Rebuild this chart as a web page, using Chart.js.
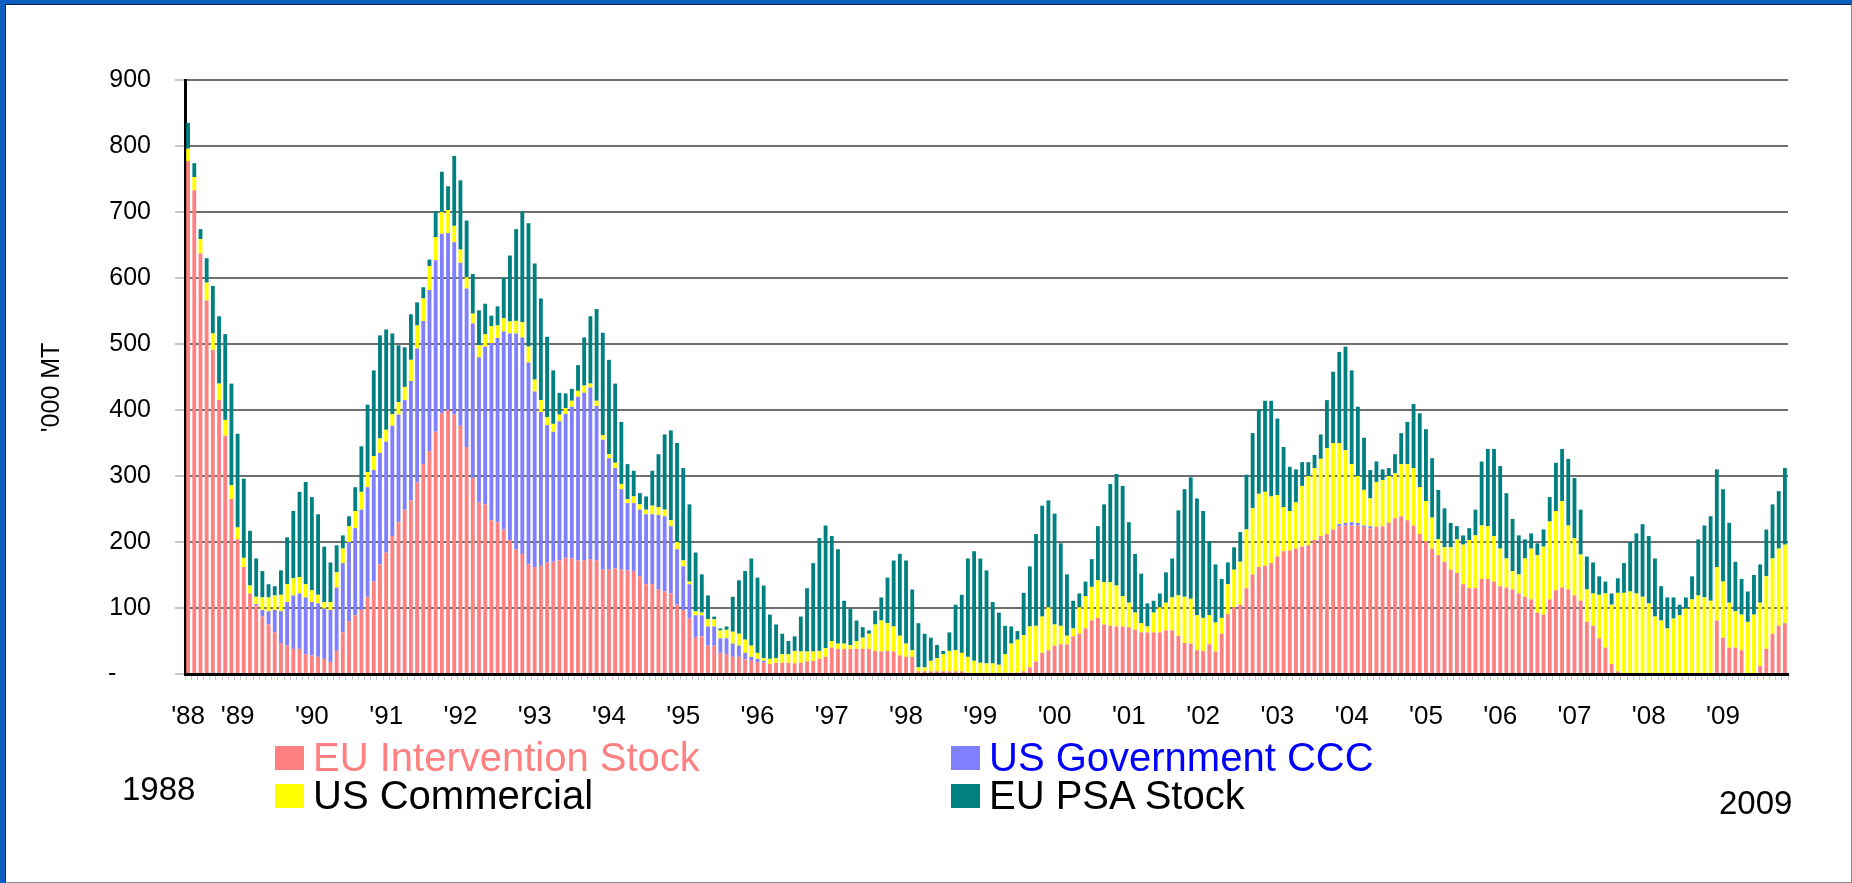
<!DOCTYPE html>
<html>
<head>
<meta charset="utf-8">
<script src="https://cdn.jsdelivr.net/npm/chart.js@4/dist/chart.umd.min.js"></script>
<style>
html,body{margin:0;padding:0;width:1852px;height:883px;overflow:hidden;background:#0d5fbf;}
#panel{position:absolute;left:5px;top:4px;width:1845px;height:877px;background:#fff;border:1px solid;border-color:#10204a #8a8a8a #8a8a8a #10204a;}
#wrap{position:absolute;left:0;top:0;width:1852px;height:883px;}
.txt{position:absolute;font-family:"Liberation Sans",Arial,sans-serif;color:#000;white-space:nowrap;}
.leg{position:absolute;height:40px;line-height:40px;font-family:"Liberation Sans",Arial,sans-serif;font-size:40px;white-space:nowrap;}
.sw{position:absolute;left:0;top:9px;width:29px;height:24px;}
.lt{position:absolute;left:38px;top:0;}
</style>
</head>
<body>
<div id="panel"></div>
<div id="wrap"><canvas id="c"></canvas></div>
<div class="txt" style="left:122px;top:772px;font-size:33px;line-height:34px;">1988</div>
<div class="txt" style="left:1719px;top:786px;font-size:33px;line-height:34px;">2009</div>
<div id="legend"></div>
<script>
// Monthly observations, May 1988 .. Nov 2009 ('000 MT)
const yearTickLabels = ["'88","'89","'90","'91","'92","'93","'94","'95","'96","'97","'98","'99","'00","'01","'02","'03","'04","'05","'06","'07","'08","'09"];
const yTickLabels = ["-","100","200","300","400","500","600","700","800","900"];

const euIntervention = [
777,733,637,566,491,415,361,265,204,162,122,104,87,75,63,47,43,38,38,30,28,26,23,18,35,63,80,89,97,117,140,166,
184,209,230,249,263,290,318,338,367,395,400,393,376,344,297,260,257,233,230,219,203,189,182,166,162,164,169,170,172,176,175,172,172,
174,172,158,158,160,158,157,156,148,136,136,128,125,122,105,97,84,55,57,43,43,32,30,26,26,22,20,18,17,15,17,17,17,
16,17,19,20,23,26,40,38,38,38,38,38,38,35,34,35,34,28,26,26,4,4,4,4,4,4,4,4,2,0,0,0,0,0,
2,2,2,4,10,19,32,36,43,45,45,57,61,69,81,85,75,73,72,72,71,67,63,63,63,63,66,66,58,47,46,36,35,
45,34,61,91,101,105,130,151,162,164,168,178,186,187,190,193,195,203,209,212,219,224,225,225,225,223,221,223,224,229,236,239,233,
225,212,201,190,180,170,158,153,136,130,130,144,144,140,133,131,128,122,117,113,93,90,113,127,131,128,119,111,79,73,54,40,15,
4,0,0,0,0,0,0,0,0,0,0,0,0,0,0,0,81,55,40,40,36,0,0,12,38,61,73,77];

const usGovernmentCCC = [
0,0,0,0,0,0,0,0,0,0,0,2,10,20,34,48,66,81,84,86,81,81,76,79,96,105,120,132,152,166,169,169,
168,167,163,166,181,203,217,244,260,272,268,261,247,240,234,220,239,268,279,300,313,327,328,306,266,233,208,197,211,218,230,248,254,
260,234,197,169,152,122,102,103,101,106,106,113,114,102,84,66,52,34,32,29,29,22,24,20,17,10,6,5,3,0,0,0,0,
0,0,0,0,0,0,0,0,0,0,0,0,0,0,0,0,0,0,0,0,0,0,0,0,0,0,0,0,0,0,0,0,0,0,
0,0,0,0,0,0,0,0,0,0,0,0,0,0,0,0,0,0,0,0,0,0,0,0,0,0,0,0,0,0,0,0,0,
0,0,0,0,0,0,0,0,0,0,0,0,0,0,0,0,0,0,0,0,0,3,4,5,4,2,3,0,0,0,0,0,0,
0,0,0,0,0,0,0,0,0,0,0,0,0,0,0,0,0,0,0,0,0,0,0,0,0,0,0,0,0,0,0,0,0,
0,0,0,0,0,0,0,0,0,0,0,0,0,0,0,0,0,0,0,0,0,0,0,0,0,0,0,0];

const usCommercial = [
19,20,22,27,25,25,24,21,18,14,12,11,19,21,22,25,27,26,25,20,18,13,10,12,23,22,24,26,27,23,21,22,
18,18,19,20,32,35,34,36,35,33,35,25,20,17,15,18,19,26,19,20,18,19,23,24,18,18,12,12,10,9,9,9,11,
6,8,7,6,8,8,6,10,8,7,13,12,10,9,11,9,4,6,4,11,11,12,13,18,18,20,17,9,4,8,7,13,13,
19,17,15,14,12,13,10,8,8,6,12,17,23,40,47,42,38,30,20,10,6,6,16,20,26,31,32,28,24,20,17,16,16,14,
28,44,50,55,62,54,55,65,32,28,13,12,40,49,51,57,64,66,62,46,37,26,14,9,30,38,42,50,61,70,68,53,50,
44,44,24,45,57,65,89,100,111,112,101,93,67,60,70,92,105,109,117,130,131,123,110,88,71,54,42,68,70,71,68,79,85,
87,71,61,47,24,22,34,51,60,73,80,81,80,69,57,44,28,29,58,77,87,103,118,120,131,97,87,70,49,49,66,82,90,
119,123,125,122,117,107,87,81,69,84,89,99,113,119,116,111,81,85,68,55,54,79,90,96,110,114,117,119];

const euPSAStock = [
39,21,15,37,72,102,130,154,142,120,83,58,40,20,14,37,71,102,129,155,141,122,84,60,41,20,15,36,69,102,130,156,
152,122,86,60,69,35,17,10,39,61,36,106,105,86,60,53,46,16,29,61,100,139,168,187,176,154,122,81,33,22,18,39,73,
102,139,155,143,120,94,53,39,17,20,53,80,114,136,150,140,117,89,58,36,4,3,5,53,81,104,132,114,110,67,51,31,20,
22,53,96,134,171,186,159,143,65,55,31,16,5,21,35,69,100,124,126,92,67,51,35,20,5,28,69,88,149,166,158,141,93,79,
43,26,13,64,91,139,168,162,168,125,93,42,21,22,42,82,118,149,169,167,122,89,75,35,18,21,46,59,129,163,184,177,162,
112,88,59,33,34,45,83,114,128,138,145,116,91,67,50,36,21,20,37,73,108,138,157,142,105,79,43,31,16,12,29,47,64,
97,112,109,90,75,59,37,20,14,18,39,97,117,132,125,99,79,59,29,23,18,26,37,73,79,101,91,68,50,47,28,18,17,
22,45,75,91,110,102,88,52,47,32,16,17,35,85,109,128,148,140,121,75,54,46,60,58,71,82,87,116];

const seriesNames  = ["EU Intervention Stock","US Government CCC","US Commercial","EU PSA Stock"];
const seriesColors = ["#FF8080","#8080FF","#FFFF00","#008080"];
const legendTextColors = ["#FF8080","#0000FF","#000000","#000000"];

// categories: one per month; year label shown at first bar and each January
const nBars = euIntervention.length;
const categories = [];
const xTickText = [];
for (let i = 0; i < nBars; i++) { categories.push('m' + i); xTickText.push(''); }
xTickText[0] = yearTickLabels[0];
for (let k = 1; k < yearTickLabels.length; k++) { const idx = 8 + 12 * (k - 1); if (idx < nBars) xTickText[idx] = yearTickLabels[k]; }

// legend (HTML)
const legendPos = [[275,737],[951,737],[275,775],[951,775]];
const leg = document.getElementById('legend');
seriesNames.forEach((n, i) => {
  const d = document.createElement('div');
  d.className = 'leg';
  d.style.left = legendPos[i][0] + 'px';
  d.style.top = legendPos[i][1] + 'px';
  d.innerHTML = '<span class="sw" style="background:' + seriesColors[i] + '"></span><span class="lt" style="color:' + legendTextColors[i] + '">' + n + '</span>';
  leg.appendChild(d);
});

Chart.defaults.font.family = '"Liberation Sans", Arial, sans-serif';
const allSeries = [euIntervention, usGovernmentCCC, usCommercial, euPSAStock];
new Chart(document.getElementById('c'), {
  type: 'bar',
  data: {
    labels: categories,
    datasets: allSeries.map((d, i) => ({
      label: seriesNames[i], data: d, backgroundColor: seriesColors[i], borderWidth: 0, stack: 's',
      barPercentage: 0.62, categoryPercentage: 1.0
    }))
  },
  options: {
    responsive: true, maintainAspectRatio: false, animation: false,
    layout: { padding: { left: 32, right: 64, top: 80, bottom: 0 } },
    plugins: { legend: { display: false }, tooltip: { enabled: false } },
    scales: {
      x: {
        stacked: true,
        grid: { display: true, drawOnChartArea: false, drawTicks: true, tickLength: 6, tickColor: '#c8c8c8', color: '#c8c8c8' },
        border: { display: true, color: '#000', width: 3 },
        ticks: { autoSkip: false, maxRotation: 0, minRotation: 0, padding: 21, color: '#000', font: { size: 26 },
                 callback: (v, i) => xTickText[i] },
        afterFit: s => { s.height = 209; }
      },
      y: {
        stacked: true, min: 0, max: 900,
        ticks: { stepSize: 100, padding: 24, color: '#000', font: { size: 25 },
                 callback: (v) => { const t = yTickLabels[Math.round(v / 100)]; return v === 0 ? t + '\u00a0\u00a0\u00a0\u00a0\u00a0' : t; } },
        grid: { color: '#6e6e6e', lineWidth: 2, drawTicks: true, tickLength: 10, tickColor: '#c8c8c8' },
        border: { display: true, color: '#000', width: 3 },
        title: { display: true, text: "'000 MT\u00a0\u00a0\u00a0", color: '#000', font: { size: 25 }, padding: { top: 5, bottom: 0 } },
        afterFit: s => { s.width = 153; }
      }
    }
  }
});
</script>
</body>
</html>
